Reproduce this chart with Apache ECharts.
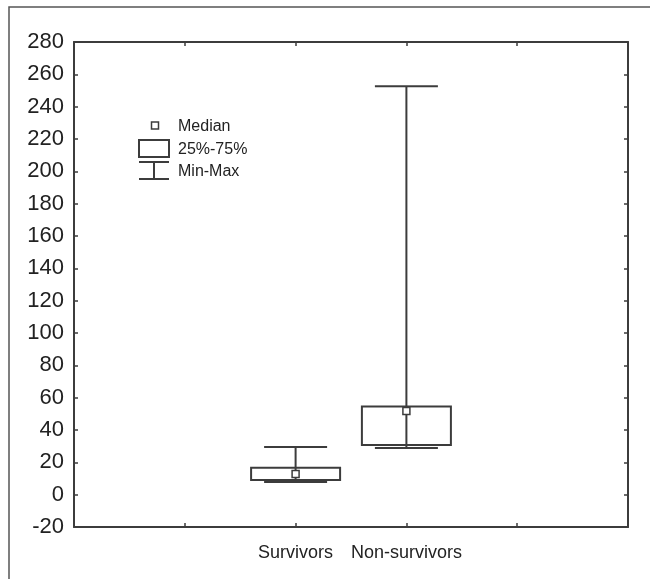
<!DOCTYPE html>
<html lang="en">
<head>
    <meta charset="UTF-8">
    <title>Survivors vs Non-survivors</title>
    <style>
        html, body { margin: 0; padding: 0; background: #fff; }
        #main { width: 650px; height: 579px; }
    </style>
</head>
<body>
    <div id="main"></div>
    <script src="https://cdn.jsdelivr.net/npm/echarts@6/dist/echarts.min.js"></script>
    <script>
        // x axis slots, groups sit on slots 2 and 3
        const categories = ['', '', 'Survivors', 'Non-survivors', '', ''];
        const groupSlots = [2, 3];
        const minValues = [7.8, 28.9];
        const q1Values = [9.1, 30.7];
        const medianValues = [12.8, 51.8];
        const q3Values = [16.7, 54.5];
        const maxValues = [29.5, 252.7];

        const lineColor = '#3c3c3c';
        const textColor = '#222';
        const font = 'Liberation Sans, Arial, sans-serif';

        const boxData = groupSlots.map((slot, i) => [
            slot, minValues[i], q1Values[i], medianValues[i], q3Values[i], maxValues[i]
        ]);

        function renderBox(params, api) {
            const x = api.value(0);
            const pMin = api.coord([x, api.value(1)]);
            const pQ1 = api.coord([x, api.value(2)]);
            const pMed = api.coord([x, api.value(3)]);
            const pQ3 = api.coord([x, api.value(4)]);
            const pMax = api.coord([x, api.value(5)]);
            const cx = pMed[0];
            const boxHalf = 44.5, capHalf = 31.5, medSize = 7;
            const stroke = { stroke: lineColor, lineWidth: 2, fill: null };
            return {
                type: 'group',
                children: [
                    { type: 'line', shape: { x1: cx, y1: pMax[1], x2: cx, y2: pMin[1] }, style: stroke },
                    { type: 'line', shape: { x1: cx - capHalf, y1: pMax[1], x2: cx + capHalf, y2: pMax[1] }, style: stroke },
                    { type: 'line', shape: { x1: cx - capHalf, y1: pMin[1], x2: cx + capHalf, y2: pMin[1] }, style: stroke },
                    { type: 'rect', shape: { x: cx - boxHalf, y: pQ3[1], width: boxHalf * 2, height: pQ1[1] - pQ3[1] }, style: stroke },
                    { type: 'rect', shape: { x: cx - medSize / 2, y: pMed[1] - medSize / 2, width: medSize, height: medSize },
                      style: { stroke: lineColor, lineWidth: 1.5, fill: '#fff' } }
                ]
            };
        }

        const chart = echarts.init(document.getElementById('main'));
        const axisLine = { show: true, onZero: false, lineStyle: { color: lineColor, width: 2 } };
        const axisTick = { show: true, inside: true, length: 4, lineStyle: { color: lineColor, width: 1.5 } };

        const option = {
            animation: false,
            backgroundColor: '#fff',
            grid: { left: 74, right: 22, top: 42, bottom: 52 },
            xAxis: [
                {
                    type: 'category', data: categories, boundaryGap: false,
                    axisLine: axisLine, axisTick: axisTick,
                    axisLabel: { interval: 0, fontSize: 18, color: textColor, fontFamily: font, margin: 17 },
                    splitLine: { show: false }
                },
                {
                    type: 'category', data: categories, boundaryGap: false, position: 'top',
                    axisLine: axisLine, axisTick: axisTick, axisLabel: { show: false }
                }
            ],
            yAxis: [
                {
                    type: 'value', min: -20, max: 280, interval: 20,
                    axisLine: axisLine, axisTick: axisTick,
                    axisLabel: { fontSize: 22, color: textColor, fontFamily: font, margin: 10 },
                    splitLine: { show: false }
                },
                {
                    type: 'value', min: -20, max: 280, interval: 20, position: 'right',
                    axisLine: axisLine, axisTick: axisTick, axisLabel: { show: false },
                    splitLine: { show: false }
                }
            ],
            series: [{
                type: 'custom',
                renderItem: renderBox,
                encode: { x: 0, y: [1, 2, 3, 4, 5] },
                data: boxData,
                z: 5
            }],
            graphic: [
                // outer frame
                { type: 'rect', shape: { x: 9, y: 7, width: 700, height: 700 },
                  style: { stroke: '#555', lineWidth: 1.5, fill: null }, silent: true },
                // legend
                { type: 'rect', shape: { x: 151.5, y: 122, width: 7, height: 7 },
                  style: { stroke: lineColor, lineWidth: 1.5, fill: '#fff' } },
                { type: 'rect', shape: { x: 139, y: 140, width: 30, height: 17 },
                  style: { stroke: lineColor, lineWidth: 2, fill: null } },
                { type: 'line', shape: { x1: 139, y1: 162, x2: 169, y2: 162 }, style: { stroke: lineColor, lineWidth: 2 } },
                { type: 'line', shape: { x1: 139, y1: 179, x2: 169, y2: 179 }, style: { stroke: lineColor, lineWidth: 2 } },
                { type: 'line', shape: { x1: 154, y1: 162, x2: 154, y2: 179 }, style: { stroke: lineColor, lineWidth: 2 } },
                { type: 'text', x: 178, y: 127, style: { text: 'Median', fontSize: 16, fontFamily: font, fill: textColor, verticalAlign: 'middle' } },
                { type: 'text', x: 178, y: 150, style: { text: '25%-75%', fontSize: 16, fontFamily: font, fill: textColor, verticalAlign: 'middle' } },
                { type: 'text', x: 178, y: 172, style: { text: 'Min-Max', fontSize: 16, fontFamily: font, fill: textColor, verticalAlign: 'middle' } }
            ]
        };
        chart.setOption(option);
    </script>
</body>
</html>
